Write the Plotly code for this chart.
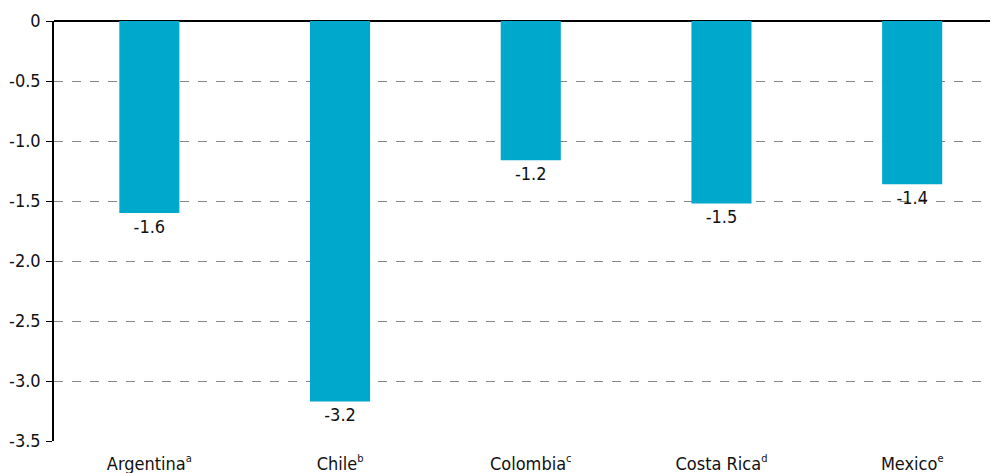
import plotly.graph_objects as go

SUP = "<sup><span style='font-size:11px'>{}</span></sup>"
categories = ["Argentina", "Chile", "Colombia", "Costa Rica", "Mexico"]
notes = ["a", "b", "c", "d", "e"]
values = [-1.60, -3.17, -1.16, -1.52, -1.36]
labels = ["-1.6", "-3.2", "-1.2", "-1.5", "-1.4"]
ytick_vals = [0, -0.5, -1.0, -1.5, -2.0, -2.5, -3.0, -3.5]
ytick_text = ["0", "-0.5", "-1.0", "-1.5", "-2.0", "-2.5", "-3.0", "-3.5"]

FONT = "DejaVu Sans Condensed, Liberation Sans Narrow, sans-serif"

ticktext = [c + SUP.format(n) for c, n in zip(categories, notes)]

fig = go.Figure(go.Bar(
    x=list(range(len(categories))),
    y=values,
    width=0.315,
    marker=dict(color="#00A8CB", line=dict(width=0)),
    text=labels,
    textposition="outside",
    textfont=dict(family=FONT, size=18, color="#111111"),
    cliponaxis=False,
))

# page body has an 8px default margin: compensate in size/margins
fig.update_layout(
    width=990, height=465,
    margin=dict(l=46, r=0, t=13, b=32),
    paper_bgcolor="white", plot_bgcolor="white",
    showlegend=False,
    font=dict(family=FONT, size=18, color="#111111"),
    xaxis=dict(
        range=[-0.5, 4.45],
        tickvals=list(range(len(categories))),
        ticktext=ticktext,
        showgrid=False, zeroline=False, showline=False,
        ticks="", ticklabelstandoff=10,
        tickfont=dict(family=FONT, size=18, color="#111111"),
    ),
    yaxis=dict(
        range=[-3.5, 0],
        tickvals=ytick_vals, ticktext=ytick_text,
        showgrid=True, gridcolor="#888888", griddash="dash", gridwidth=1,
        zeroline=True, zerolinecolor="#000000", zerolinewidth=2,
        showline=True, linecolor="#000000", linewidth=1.5,
        ticks="outside", ticklen=6, tickcolor="#000000",
        ticklabelstandoff=2,
        tickfont=dict(family=FONT, size=18, color="#111111"),
    ),
)

fig.write_html("out.html")
